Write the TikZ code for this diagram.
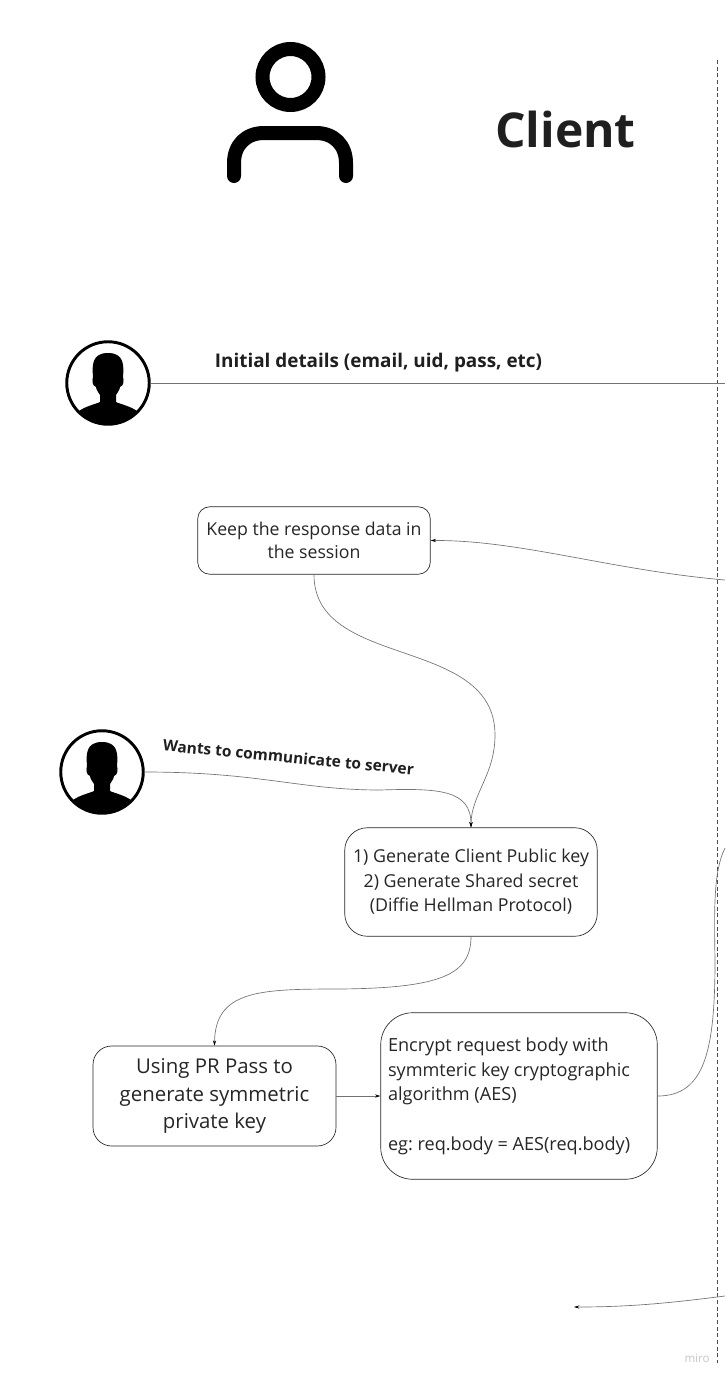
\documentclass[tikz,border=0pt]{standalone}
\usepackage{fontspec}
\setmainfont{Open Sans}
\usetikzlibrary{arrows.meta}
\frenchspacing
\newcommand{\pxfont}[1]{\fontsize{\dimexpr #1pt*3/4\relax}{\dimexpr #1pt*3/4*5/4\relax}\selectfont}
\tikzset{
  x=0.75pt,y=-0.75pt,
  boxa/.style={draw=black!85,line width=0.5pt,fill=white,align=center,inner sep=0pt,text=black!85},
  conn/.style={draw=black!55,line width=0.5pt},
  head/.style={-{Stealth[length=4pt,width=2.4pt,black]}},
  avatar/.style={circle,draw=black,line width=2.2pt,minimum size=61.875pt,inner sep=0pt},
  bigicon/.style={draw=black,line width=10.5pt,line cap=round},
  lab/.style={text=black!88,font=\bfseries,inner sep=0pt},
}
\newcommand{\silhouette}[1]{%
  \fill[black,shift={(#1)}] (-29,28) .. controls (-22,23) and (-12,21) .. (-8,19)
   -- (-8,12) .. controls (-10,9) and (-12,6) .. (-12,4)
   .. controls (-16,3) and (-16,-3) .. (-15,-6)
   .. controls (-16,-18) and (-16,-30) .. (0,-30)
   .. controls (16,-30) and (16,-18) .. (15,-6)
   .. controls (16,-3) and (16,3) .. (12,4)
   .. controls (12,6) and (10,9) .. (8,12)
   -- (8,19) .. controls (12,21) and (22,23) .. (29,28)
   .. controls (21,36) and (11,41) .. (0,41)
   .. controls (-11,41) and (-21,36) .. (-29,28) -- cycle;}
\begin{document}
\begin{tikzpicture}
\useasboundingbox (0,0) rectangle (725,1378);
\fill[white] (0,0) rectangle (725,1378);
% big icon
\draw[bigicon] (290.5,77) circle (28);
\draw[bigicon] (234,176) -- (234,163) .. controls (234,145) and (246,133) .. (264,133) -- (316,133) .. controls (334,133) and (346,145) .. (346,163) -- (346,176);
\node[lab,font=\bfseries\pxfont{48}] (title) at (565.5,129) {Client};
% dashed divider
\coordinate (divtop) at (717,60);
\coordinate (divbot) at (717,1363);
\draw[draw=black!70,line width=0.55pt,dash pattern=on 3pt off 2pt] (divtop) -- (divbot);
% avatars
\node[avatar] (user1) at (108,383) {};
\silhouette{108,383}
\node[avatar] (user2) at (102,772) {};
\silhouette{102,772}
% labels
\node[lab,font=\bfseries\pxfont{18.9}] (initlabel) at (378.5,362.5) {Initial details (email, uid, pass, etc)};
\node[lab,font=\bfseries\pxfont{15.45},rotate=-5.5] (wantlabel) at (288.5,757) {Wants to communicate to server};
% boxes
\node[boxa,minimum width=174.4pt,minimum height=50.6pt,rounded corners=9pt,font=\pxfont{17.7}] (keep) at (314,540.5) {\raisebox{0pt}{Keep the response data in}\\[0.9pt]the session};
\node[boxa,minimum width=189.4pt,minimum height=81.4pt,rounded corners=17pt,font=\pxfont{17.8}] (gen) at (471,882) {1) Generate Client Public key\\[1.7pt]2) Generate Shared secret\\[1.7pt](Diffie Hellman Protocol)};
\node[boxa,minimum width=182.25pt,minimum height=75pt,rounded corners=14pt,font=\pxfont{20.4}] (pass) at (214.5,1096) {Using PR Pass to\\[1.5pt]generate symmetric\\[1.5pt]private key};
\node[boxa,minimum width=207.4pt,minimum height=124.9pt,rounded corners=24pt,font=\pxfont{18.1},align=left] (enc) at (519,1096) {\parbox{196.5pt}{\baselineskip=18.5pt
Encrypt request body with\\symmteric key cryptographic\\algorithm (AES)\\[18.5pt]eg: req.body = AES(req.body)}};
% free ends
\coordinate (e1) at (725,383);
\coordinate (e2) at (725,580);
\coordinate (e3) at (725,848);
\coordinate (e4) at (725,1296);
\coordinate (e5) at (574,1307);
% connectors
\draw[conn] (user1.east) -- (e1);
\draw[conn,head] (e2) .. controls (610,570) and (520,540) .. (keep.east);
\draw[conn,head] (keep.south) .. controls (314,670) and (495,635) .. (495,735) .. controls (495,775) and (471,795) .. (gen.north);
\draw[conn,head] (user2.east) .. controls (260,772) and (300,790) .. (380,790) .. controls (440,788) and (471,790) .. (gen.north);
\draw[conn,head] (gen.south) .. controls (471,975) and (440,988) .. (340,989) .. controls (260,989) and (215,990) .. (pass.north);
\draw[conn,head] (pass.east) -- (enc.west);
\draw[conn] (enc.east) .. controls (705,1096) and (715,1050) .. (715,960) .. controls (714,905) and (714,870) .. (e3);
\draw[conn,head] (e4) .. controls (670,1303) and (630,1307) .. (e5);
\node[text=black!22,font=\pxfont{11.5},inner sep=0pt] (miro) at (697,1358) {miro};
\end{tikzpicture}
\end{document}
